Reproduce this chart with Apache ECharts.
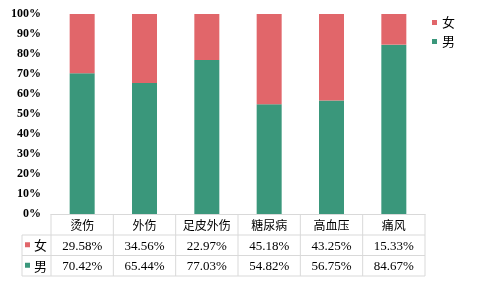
<!DOCTYPE html>
<html><head><meta charset="utf-8">
<script src="https://cdn.jsdelivr.net/npm/echarts@6/dist/echarts.min.js"></script>
<style>html,body{margin:0;padding:0;background:#fff}#c{width:480px;height:283px}</style>
</head><body><div id="c"></div>
<script>
var categories = ['烫伤','外伤','足皮外伤','糖尿病','高血压','痛风'];
var female = [29.58, 34.56, 22.97, 45.18, 43.25, 15.33];
var male = [70.42, 65.44, 77.03, 54.82, 56.75, 84.67];
var seriesNames = ['女','男'];
var colors = {'女':'#E1666A','男':'#3A977B'};

var G = {left:51, right:425, top:14, bottom:214};
var rowH = 20.5, headH = 21, labelColX = 22, lineColor = '#D9D9D9';
var serif = '"Liberation Serif","Times New Roman",serif';
var cjk = '"Noto Sans CJK SC",sans-serif';

var chart = echarts.init(document.getElementById('c'));
function fmt(v){ return v.toFixed(2) + '%'; }

var graphics = [];
var n = categories.length, colW = (G.right - G.left)/n;
var y1 = G.bottom + headH, y2 = y1 + rowH, y3 = y2 + rowH;
[y1, y2, y3].forEach(function(y){
  graphics.push({type:'line', shape:{x1:labelColX, y1:y, x2:G.right, y2:y}, style:{stroke:lineColor, lineWidth:1}});
});
for (var i = 0; i <= n; i++) {
  var x = G.left + i*colW;
  graphics.push({type:'line', shape:{x1:x, y1:G.bottom, x2:x, y2:y3}, style:{stroke:lineColor, lineWidth:1}});
}
graphics.push({type:'line', shape:{x1:labelColX, y1:y1, x2:labelColX, y2:y3}, style:{stroke:lineColor, lineWidth:1}});
seriesNames.forEach(function(name, k){
  var cy = y1 + rowH*k + rowH/2;
  graphics.push({type:'rect', shape:{x:25, y:cy-3, width:5, height:5}, style:{fill:colors[name]}});
  graphics.push({type:'text', x:34, y:cy, style:{text:name, font:'13px '+cjk, fill:'#000', verticalAlign:'middle', align:'left'}});
});

chart.setOption({
  animation:false,
  color:[colors['男'], colors['女']],
  grid:{left:G.left, right:480-G.right, top:G.top, bottom:283-G.bottom, containLabel:false},
  legend:{data:seriesNames, orient:'vertical', left:427, top:11, itemWidth:5, itemHeight:5, itemGap:6, icon:'rect',
    textStyle:{fontFamily:cjk, fontSize:13, color:'#000'}},
  xAxis:{type:'category', data:categories,
    axisLine:{show:true, lineStyle:{color:lineColor}}, axisTick:{show:false},
    axisLabel:{interval:0, margin:1, verticalAlign:'top', lineHeight:20.5,
      formatter:function(v, idx){
        return '{c|'+v+'}\n{v|'+fmt(female[idx])+'}\n{v|'+fmt(male[idx])+'}';
      },
      rich:{
        c:{fontFamily:cjk, fontSize:12, color:'#000', lineHeight:21, height:21},
        v:{fontFamily:serif, fontSize:13, color:'#000', lineHeight:20.5, height:20.5}
      }}
  },
  yAxis:{type:'value', min:0, max:100, interval:10,
    axisLine:{show:false}, axisTick:{show:false}, splitLine:{show:false},
    axisLabel:{formatter:'{value}%', fontFamily:serif, fontWeight:'bold', fontSize:12, color:'#000', margin:10, padding:[4,0,0,0]}},
  series:[
    {name:'男', type:'bar', stack:'a', barWidth:25, data:male, itemStyle:{color:colors['男']}},
    {name:'女', type:'bar', stack:'a', barWidth:25, data:female, itemStyle:{color:colors['女']}}
  ],
  graphic:graphics
});
</script></body></html>
